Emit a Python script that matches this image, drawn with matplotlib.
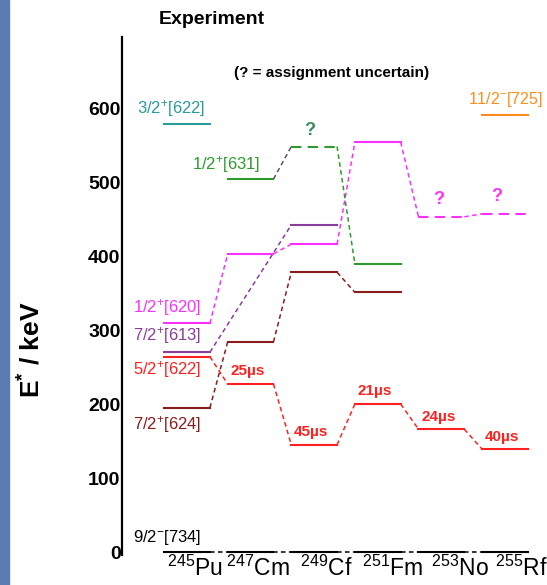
import numpy as np
import matplotlib.pyplot as plt
from matplotlib.patches import Rectangle

plt.rcParams['font.family'] = 'Liberation Sans'
plt.rcParams['mathtext.fontset'] = 'custom'
plt.rcParams['mathtext.rm'] = 'Liberation Sans'
plt.rcParams['mathtext.bf'] = 'Liberation Sans:bold'
plt.rcParams['mathtext.default'] = 'regular'

nan = np.nan
nuclei = [r'$^{245}$Pu', r'$^{247}$Cm', r'$^{249}$Cf',
          r'$^{251}$Fm', r'$^{253}$No', r'$^{255}$Rf']

# excitation energies (keV) of each Nilsson state along the N=151 isotones
e_734 = [0, 0, 0, 0, 0, 0]
e_624 = [195, 284, 378, 351, nan, nan]
e_622 = [264, 227, 145, 200, 166, 139]
e_613 = [270, nan, 442, nan, nan, nan]
e_620 = [309, 403, 416, 554, 453, 457]
e_631 = [nan, 504, 548, 389, nan, nan]
e_622_32 = [578, nan, nan, nan, nan, nan]
e_725 = [nan, nan, nan, nan, nan, 590]

# isomer half-lives of the 5/2+[622] level
half_lives = ['', '25µs', '45µs', '21µs', '24µs', '40µs']

# levels whose assignment is uncertain
unsure_620 = [False, False, False, False, True, True]
unsure_631 = [False, False, True, False, False, False]

c_734 = 'black'
c_624 = '#8b1c1c'
c_622 = '#ff2020'
c_613 = '#8a3d9a'
c_620 = '#ff30ff'
c_631 = '#2e9a2e'
c_622_32 = '#2a9a9a'
c_725 = '#ff8c1a'

hw = 0.36
dash = (0, (3, 2.2))
name_x = [0.13, 1.11, 2.19, 3.24, 4.29, 5.25]
qmark_dx = {4: -0.05, 5: -0.13}


def draw_band(ax, e, color, unsure=None, link_colors=None):
    e = np.asarray(e, float)
    idx = np.where(~np.isnan(e))[0]
    for i in idx:
        ls = (0, (5, 3)) if unsure is not None and unsure[i] else '-'
        ax.plot([i - hw, i + hw], [e[i], e[i]], color=color, lw=1.5, ls=ls)
    for k, (a, b) in enumerate(zip(idx[:-1], idx[1:])):
        lc = link_colors[k] if link_colors else color
        ax.plot([a + hw, b - hw], [e[a], e[b]], color=lc, lw=1.1, ls=dash)


fig = plt.figure(figsize=(5.47, 5.85), dpi=100)
fig.patches.append(Rectangle((0, 0), 9 / 547, 1, transform=fig.transFigure,
                             color='#5a7cb0', zorder=0))
ax = fig.add_axes([122 / 547, 30 / 585, 413 / 547, 518 / 585])

draw_band(ax, e_734, c_734)
draw_band(ax, e_624, c_624)
draw_band(ax, e_622, c_622)
draw_band(ax, e_613, c_613)
draw_band(ax, e_620, c_620, unsure_620)
draw_band(ax, e_631, c_631, unsure_631, link_colors=['#555555', c_631])
draw_band(ax, e_622_32, c_622_32)
draw_band(ax, e_725, c_725)

# state labels
lx = -0.85
ax.text(lx, 19, r'9/2$^{-}$[734]', color=c_734, fontsize=12, va='center')
ax.text(lx, 172, r'7/2$^{+}$[624]', color=c_624, fontsize=12, va='center')
ax.text(lx, 246, r'5/2$^{+}$[622]', color=c_622, fontsize=12, va='center')
ax.text(lx, 293, r'7/2$^{+}$[613]', color=c_613, fontsize=12, va='center')
ax.text(lx, 330, r'1/2$^{+}$[620]', color=c_620, fontsize=12, va='center')
ax.text(-0.79, 600, r'3/2$^{+}$[622]', color=c_622_32, fontsize=12, va='center')
ax.text(0.08, 524, r'1/2$^{+}$[631]', color=c_631, fontsize=12, va='center')
ax.text(4.42, 611, r'11/2$^{-}$[725]', color=c_725, fontsize=11.5, va='center')

for i, t in enumerate(half_lives):
    if t:
        ax.text(i - hw + 0.04, e_622[i] + 17, t, color=c_622, fontsize=11,
                fontweight='bold', va='center')

# question marks on uncertain levels
ax.text(1.93, 570, '?', color='#3a8a5a', fontsize=13, fontweight='bold',
        ha='center', va='center')
for i in range(6):
    if unsure_620[i]:
        ax.text(i + qmark_dx[i], e_620[i] + 23, '?', color=c_620,
                fontsize=13, fontweight='bold', ha='center', va='center')

for x, name in zip(name_x, nuclei):
    ax.text(x, -22, name, fontsize=16.5, ha='center', va='center')

ax.text(0.39, 719, 'Experiment', fontsize=14, fontweight='bold',
        ha='center', va='center')
ax.text(2.28, 647, '(? = assignment uncertain)', fontsize=11,
        fontweight='bold', ha='center', va='center')

ax.set_xlim(-1.022, 5.472)
ax.set_ylim(-4, 696)
ax.set_yticks(np.arange(0, 601, 100))
ax.tick_params(axis='y', length=0, pad=1, labelsize=14)
for lab in ax.get_yticklabels():
    lab.set_fontweight('bold')
ax.set_xticks([])
for s in ['top', 'right', 'bottom']:
    ax.spines[s].set_visible(False)
ax.spines['left'].set_linewidth(1.6)

fig.text(32 / 547, 1 - 350 / 585, r'E$^{*}$ / keV', fontsize=19,
         fontweight='bold', rotation=90, ha='center', va='center')

fig.savefig('out.png', dpi=100)
